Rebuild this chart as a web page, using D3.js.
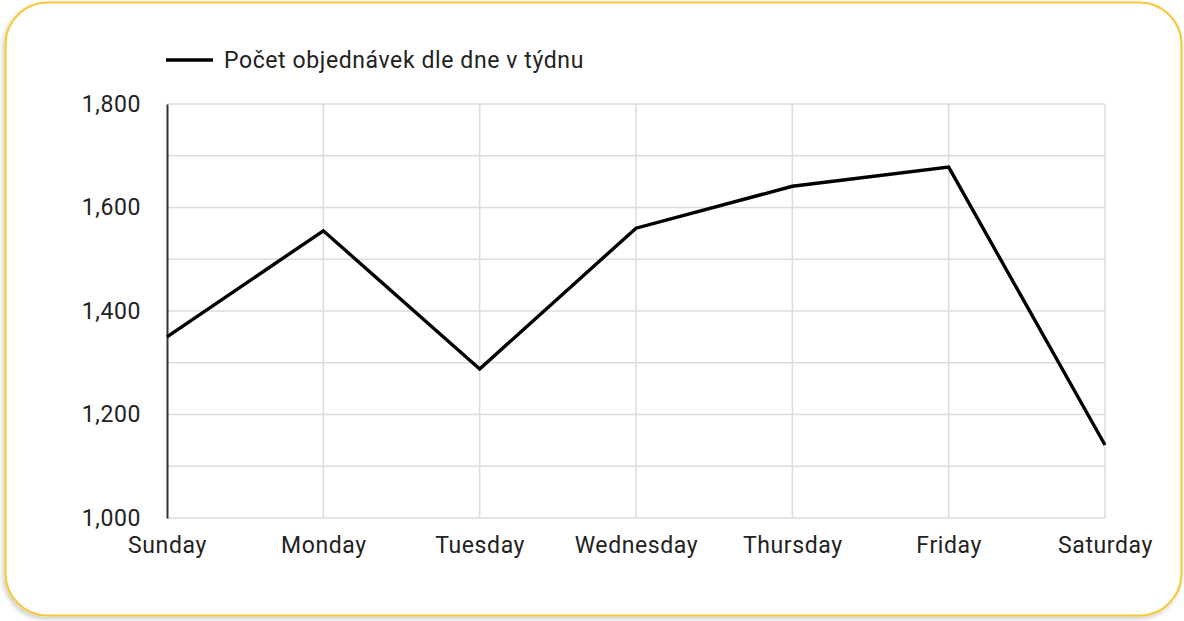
<!DOCTYPE html>
<html><head><meta charset="utf-8">
<script src="https://cdn.jsdelivr.net/npm/d3@7"></script>
<style>html,body{margin:0;padding:0;background:#fff;}svg{display:block;}</style>
</head><body>
<script>
const categories = ["Sunday","Monday","Tuesday","Wednesday","Thursday","Friday","Saturday"];
const values = [1350, 1555, 1288, 1560, 1641, 1678, 1141];
const seriesName = "Počet objednávek dle dne v týdnu";
const yTicks = [1000, 1200, 1400, 1600, 1800];
const yGrid = [1000,1100,1200,1300,1400,1500,1600,1700,1800];

const W = 1184, H = 621;
const svg = d3.select("body").append("svg").attr("width", W).attr("height", H);
const defs = svg.append("defs");
const f = defs.append("filter").attr("id","sh").attr("x","-5%").attr("y","-5%").attr("width","110%").attr("height","110%");
f.append("feDropShadow").attr("dx",-2).attr("dy",3).attr("stdDeviation",2).attr("flood-color","#000").attr("flood-opacity",0.18);

svg.append("rect").attr("x",5.5).attr("y",2.5).attr("width",1176).attr("height",613)
  .attr("rx",42).attr("ry",42).attr("fill","#fff").attr("stroke","#f8c93c").attr("stroke-width",2.2)
  .attr("filter","url(#sh)");

const font = "Roboto, 'Noto Sans', sans-serif";
const fs = 23, ls = "0.6px";
const x = d3.scalePoint().domain(categories).range([167, 1105]);
const y = d3.scaleLinear().domain([1000, 1800]).range([518, 104]);

const g = svg.append("g");
g.selectAll("line.hg").data(yGrid).join("line").attr("class","hg")
  .attr("x1",167).attr("x2",1105).attr("y1",d=>y(d)).attr("y2",d=>y(d))
  .attr("stroke","#dcdcdc").attr("stroke-width",1.5);
g.selectAll("line.vg").data(categories.slice(1)).join("line").attr("class","vg")
  .attr("x1",d=>x(d)).attr("x2",d=>x(d)).attr("y1",104).attr("y2",518)
  .attr("stroke","#dcdcdc").attr("stroke-width",1.5);

// y axis
const yAxis = d3.axisLeft(y).tickValues(yTicks).tickFormat(d3.format(",")).tickSize(0).tickPadding(26);
const ya = g.append("g").attr("transform","translate(167,0)").call(yAxis);
ya.select(".domain").attr("stroke","#333").attr("stroke-width",2);
ya.selectAll("text").attr("font-family",font).attr("font-size",fs).attr("letter-spacing",ls).attr("fill","#222");

const xAxis = d3.axisBottom(x).tickSize(0).tickPadding(18.5);
const xa = g.append("g").attr("transform","translate(0,518)").call(xAxis);
xa.select(".domain").remove();
xa.selectAll("text").attr("font-family",font).attr("font-size",fs).attr("letter-spacing",ls).attr("fill","#222");

const line = d3.line().x((d,i)=>x(categories[i])).y(d=>y(d));
g.append("path").datum(values).attr("d",line).attr("fill","none")
  .attr("stroke","#000").attr("stroke-width",3.4).attr("stroke-linejoin","miter");

// legend
svg.append("line").attr("x1",166).attr("x2",213).attr("y1",60).attr("y2",60)
  .attr("stroke","#000").attr("stroke-width",3.5);
svg.append("text").attr("x",224).attr("y",68).text(seriesName)
  .attr("font-family",font).attr("font-size",fs).attr("letter-spacing",ls).attr("fill","#222");
</script>
</body></html>
